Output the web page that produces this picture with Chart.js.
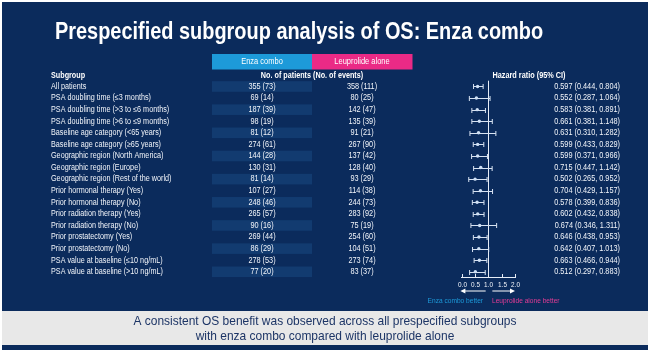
<!DOCTYPE html>
<html>
<head>
<meta charset="utf-8">
<script src="https://cdn.jsdelivr.net/npm/chart.js@4.4.1/dist/chart.umd.min.js"></script>
<style>
  html, body { margin: 0; padding: 0; background: #fff; }
  #wrap { width: 650px; height: 353px; }
</style>
</head>
<body>
<div id="wrap"><canvas id="c" width="650" height="353"></canvas></div>
<script>
// ---------- DATA ----------
const subgroups = [
  "All patients",
  "PSA doubling time (\u22643 months)",
  "PSA doubling time (>3 to \u22646 months)",
  "PSA doubling time (>6 to \u22649 months)",
  "Baseline age category (<65 years)",
  "Baseline age category (\u226565 years)",
  "Geographic region (North America)",
  "Geographic region (Europe)",
  "Geographic region (Rest of the world)",
  "Prior hormonal therapy (Yes)",
  "Prior hormonal therapy (No)",
  "Prior radiation therapy (Yes)",
  "Prior radiation therapy (No)",
  "Prior prostatectomy (Yes)",
  "Prior prostatectomy (No)",
  "PSA value at baseline (\u226410 ng/mL)",
  "PSA value at baseline (>10 ng/mL)"
];
const enzaPatients = [355, 69, 187, 98, 81, 274, 144, 130, 81, 107, 248, 265, 90, 269, 86, 278, 77];
const enzaEvents   = [73, 14, 39, 19, 12, 61, 28, 31, 14, 27, 46, 57, 16, 44, 29, 53, 20];
const leuPatients  = [358, 80, 142, 135, 91, 267, 137, 128, 93, 114, 244, 283, 75, 254, 104, 273, 83];
const leuEvents    = [111, 25, 47, 39, 21, 90, 42, 40, 29, 38, 73, 92, 19, 60, 51, 74, 37];
const hazardRatio  = [0.597, 0.552, 0.583, 0.661, 0.631, 0.599, 0.599, 0.715, 0.502, 0.704, 0.578, 0.602, 0.674, 0.646, 0.642, 0.663, 0.512];
const ciLow        = [0.444, 0.287, 0.381, 0.381, 0.310, 0.433, 0.371, 0.447, 0.265, 0.429, 0.399, 0.432, 0.346, 0.438, 0.407, 0.466, 0.297];
const ciHigh       = [0.804, 1.064, 0.891, 1.148, 1.282, 0.829, 0.966, 1.142, 0.952, 1.157, 0.836, 0.838, 1.311, 0.953, 1.013, 0.944, 0.883];
const xTicks = [0, 0.5, 1, 1.5, 2];

// ---------- STYLE ----------
const NAVY = "#0b2b5c";
const BAND = "#123b70";
const BLUE = "#1d9ad9";
const PINK = "#ea2a86";
const TXT = "#f2f5fa";
const SANS = '"Liberation Sans", Arial, sans-serif';

const fmt3 = (v) => v.toFixed(3);

// no narrow face installed, so squeeze text horizontally
function say(ctx, str, x, y, align, font, color, sx) {
  ctx.save();
  ctx.translate(x, y);
  ctx.scale(sx, 1);
  ctx.font = font;
  ctx.fillStyle = color;
  ctx.textAlign = align;
  ctx.fillText(str, 0, 0);
  ctx.restore();
}

// ---------- PLUGIN: slide, table, whiskers ----------
const slide = {
  id: "slide",
  beforeDraw(chart) {
    const { ctx, width, height } = chart;
    ctx.save();
    ctx.fillStyle = "#ffffff";
    ctx.fillRect(0, 0, width, height);
    ctx.fillStyle = NAVY;
    ctx.fillRect(2, 2, width - 4, height - 5);
    // footer band
    ctx.fillStyle = "#e8e8e8";
    ctx.fillRect(2, 311, width - 4, 34);
    ctx.restore();
  },
  beforeDatasetsDraw(chart) {
    const { ctx, chartArea } = chart;
    const x = chart.scales.x, y = chart.scales.y;
    const rowH = Math.abs(y.getPixelForValue(1) - y.getPixelForValue(0));
    const reg = "8.5px " + SANS, bold = "bold 8.5px " + SANS;
    ctx.save();

    // title
    ctx.textBaseline = "alphabetic";
    say(ctx, "Prespecified subgroup analysis of OS: Enza combo", 55, 39, "left", "bold 24px " + SANS, "#ffffff", 0.83);

    ctx.textBaseline = "middle";
    // arm header boxes
    ctx.fillStyle = BLUE;
    ctx.fillRect(212, 54, 100, 15.5);
    ctx.fillStyle = PINK;
    ctx.fillRect(312, 54, 100.5, 15.5);
    say(ctx, "Enza combo", 262, 62, "center", reg, "#ffffff", 0.88);
    say(ctx, "Leuprolide alone", 362, 62, "center", reg, "#ffffff", 0.88);

    // column headers
    say(ctx, "Subgroup", 51, 76, "left", bold, "#ffffff", 0.85);
    say(ctx, "No. of patients (No. of events)", 312, 75.5, "center", bold, "#ffffff", 0.85);
    say(ctx, "Hazard ratio (95% CI)", 529, 75.5, "center", bold, "#ffffff", 0.86);

    // rows
    subgroups.forEach((name, i) => {
      const py = y.getPixelForValue(i);
      if (i % 2 === 0) {
        ctx.fillStyle = BAND;
        ctx.fillRect(212, py - rowH / 2 + 0.5, 100, rowH - 1);
      }
      say(ctx, name, 51, py, "left", reg, TXT, 0.85);
      say(ctx, `${enzaPatients[i]} (${enzaEvents[i]})`, 262, py, "center", reg, TXT, 0.86);
      say(ctx, `${leuPatients[i]} (${leuEvents[i]})`, 362, py, "center", reg, TXT, 0.86);
      say(ctx, `${fmt3(hazardRatio[i])} (${fmt3(ciLow[i])}, ${fmt3(ciHigh[i])})`, 620, py, "right", reg, TXT, 0.86);
    });

    // reference line at HR = 1
    const x1 = Math.round(x.getPixelForValue(1)) + 0.5;
    ctx.strokeStyle = "#e6edf7";
    ctx.lineWidth = 1;
    ctx.beginPath();
    ctx.moveTo(x1, chartArea.top);
    ctx.lineTo(x1, chartArea.bottom);
    ctx.stroke();

    // CI whiskers with caps
    ctx.strokeStyle = "#d8e3f2";
    hazardRatio.forEach((v, i) => {
      const py = Math.round(y.getPixelForValue(i)) + 0.5;
      const a = x.getPixelForValue(ciLow[i]);
      const b = x.getPixelForValue(ciHigh[i]);
      ctx.beginPath();
      ctx.moveTo(a, py); ctx.lineTo(b, py);
      ctx.moveTo(a, py - 2.5); ctx.lineTo(a, py + 2.5);
      ctx.moveTo(b, py - 2.5); ctx.lineTo(b, py + 2.5);
      ctx.stroke();
    });

    // small upward tick marks + labels on x axis
    ctx.strokeStyle = "#e6edf7";
    xTicks.forEach((t) => {
      const px = Math.round(x.getPixelForValue(t)) + 0.5;
      ctx.beginPath();
      ctx.moveTo(px, chartArea.bottom);
      ctx.lineTo(px, chartArea.bottom - 3);
      ctx.stroke();
      say(ctx, t.toFixed(1), px, chartArea.bottom + 7.5, "center", "8px " + SANS, TXT, 0.8);
    });

    // direction arrows
    const ay = 291;
    const arrow = (from, to) => {
      const fx = x.getPixelForValue(from), tx = x.getPixelForValue(to);
      const dir = tx > fx ? 1 : -1;
      ctx.strokeStyle = "#ffffff";
      ctx.fillStyle = "#ffffff";
      ctx.beginPath();
      ctx.moveTo(fx, ay); ctx.lineTo(tx - dir * 4, ay);
      ctx.stroke();
      ctx.beginPath();
      ctx.moveTo(tx, ay);
      ctx.lineTo(tx - dir * 5, ay - 2.5);
      ctx.lineTo(tx - dir * 5, ay + 2.5);
      ctx.closePath();
      ctx.fill();
    };
    arrow(0.9, -0.05);
    arrow(1.15, 2.0);

    say(ctx, "Enza combo better", 483, 300.5, "right", "7.5px " + SANS, BLUE, 0.88);
    say(ctx, "Leuprolide alone better", 492, 300.5, "left", "7.5px " + SANS, "#e43c95", 0.88);

    // footer text
    say(ctx, "A consistent OS benefit was observed across all prespecified subgroups", 325, 321, "center", "13px " + SANS, "#1d3566", 0.92);
    say(ctx, "with enza combo compared with leuprolide alone", 325, 336, "center", "13px " + SANS, "#1d3566", 0.92);

    ctx.restore();
  }
};

// ---------- CHART ----------
const points = hazardRatio.map((v, i) => ({ x: v, y: i }));

new Chart(document.getElementById("c"), {
  type: "scatter",
  data: {
    datasets: [{
      data: points,
      pointRadius: 1.7,
      pointBackgroundColor: "#cfe0f5",
      pointBorderWidth: 0,
      pointHoverRadius: 1.7
    }]
  },
  options: {
    responsive: false,
    animation: false,
    devicePixelRatio: 1,
    layout: { padding: { left: 461.7, right: 135, top: 80.7, bottom: 62 } },
    plugins: { legend: { display: false }, tooltip: { enabled: false } },
    scales: {
      x: {
        type: "linear",
        min: 0, max: 2,
        afterFit: (s) => { s.height = 14; },
        afterBuildTicks: (s) => { s.ticks = xTicks.map((v) => ({ value: v })); },
        grid: { display: false, drawTicks: false },
        border: { display: true, color: "#e6edf7", width: 1 },
        ticks: { display: false }
      },
      y: {
        type: "linear",
        reverse: true,
        min: -0.5, max: 16.45,
        display: false
      }
    }
  },
  plugins: [slide]
});
</script>
</body>
</html>
